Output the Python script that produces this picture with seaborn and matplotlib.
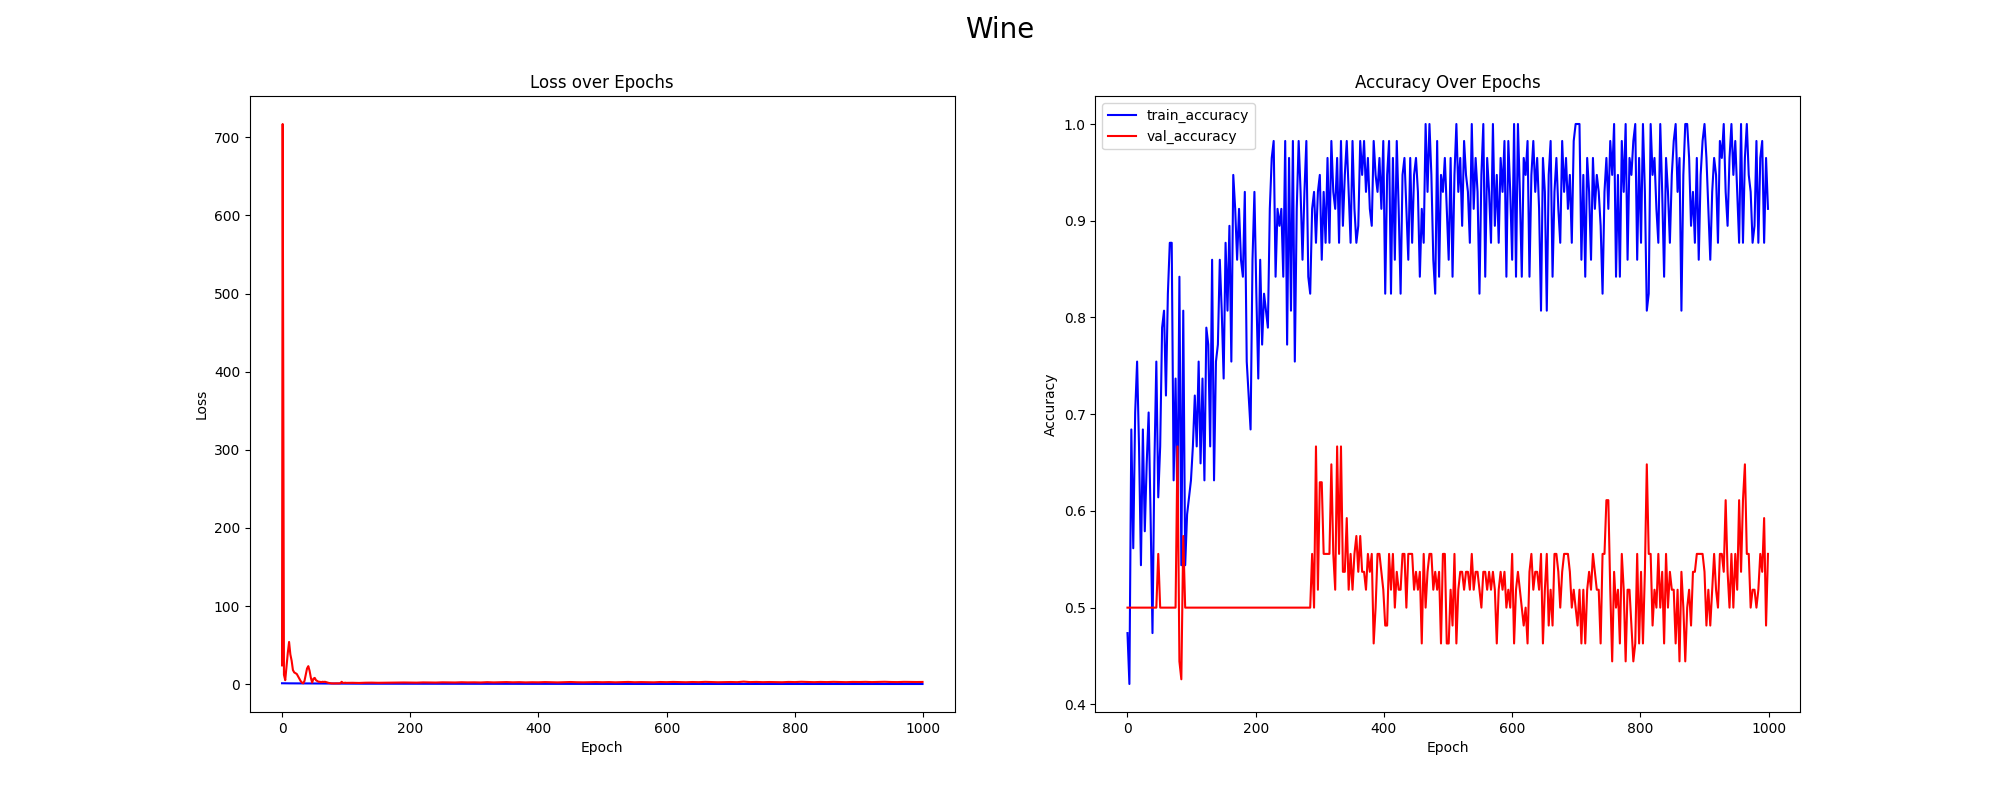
import numpy as np
import matplotlib
matplotlib.use("Agg")
import matplotlib.pyplot as plt
import seaborn as sns

# ── Data ──────────────────────────────────────────────────
# loss: epoch 0, odd epochs 1..99, then every 10 epochs and the last one
loss_epochs = [0] + list(range(1, 100, 2)) + list(range(100, 1000, 10)) + [999]

val_loss = [
    24, 717, 12, 5, 22, 40, 54, 38, 30, 18, 15, 14, 13, 10, 7, 4, 2, 1, 4, 12,
    20, 23, 17, 8, 2, 7, 8, 5, 4, 3, 3, 2.5, 3, 2.8, 3, 2.5, 2, 1.5, 1.2, 1,
    0.9, 0.9, 1, 1, 1, 1, 1.2, 3, 1.5, 1.6, 1.8,
    1.6, 1.7, 1.5, 1.8, 1.9, 1.7, 1.8, 2.0, 1.9, 2.1,
    2.0, 1.9, 2.2, 2.1, 2.0, 2.3, 2.2, 2.1, 2.4, 2.2,
    2.3, 2.1, 2.5, 2.2, 2.4, 2.6, 2.3, 2.5, 2.2, 2.4,
    2.3, 2.6, 2.4, 2.2, 2.5, 2.7, 2.4, 2.3, 2.5, 2.6,
    2.4, 2.6, 2.3, 2.5, 2.8, 2.4, 2.6, 2.5, 2.3, 2.7,
    2.5, 2.8, 2.6, 2.4, 2.7, 2.5, 2.9, 2.6, 2.4, 2.6,
    2.7, 2.5, 3.2, 2.6, 2.8, 2.5, 2.7, 2.6, 2.4, 2.8,
    2.6, 3.0, 2.7, 2.5, 2.8, 2.6, 2.9, 2.7, 2.5, 2.8,
    2.7, 2.9, 2.6, 2.8, 3.0, 2.7, 2.6, 2.9, 2.8, 2.7,
    2.8,
]

train_loss = [
    1.10, 1.08, 1.06, 1.05, 1.03, 1.02, 1.00, 0.99, 0.98, 0.97,
    0.95, 0.94, 0.94, 0.92, 0.91, 0.90, 0.89, 0.88, 0.88, 0.86,
    0.85, 0.84, 0.84, 0.82, 0.81, 0.80, 0.80, 0.78, 0.77, 0.76,
    0.76, 0.75, 0.74, 0.73, 0.72, 0.71, 0.71, 0.70, 0.69, 0.68,
    0.68, 0.67, 0.66, 0.65, 0.65, 0.64, 0.63, 0.63, 0.62, 0.61, 0.60,
    0.58, 0.56, 0.55, 0.53, 0.52, 0.50, 0.49, 0.48, 0.46, 0.45,
    0.44, 0.43, 0.42, 0.41, 0.40, 0.39, 0.39, 0.38, 0.37, 0.36,
    0.36, 0.35, 0.35, 0.34, 0.33, 0.34, 0.32, 0.32, 0.31, 0.31,
    0.30, 0.31, 0.29, 0.30, 0.28, 0.29, 0.28, 0.27, 0.28, 0.27,
    0.26, 0.27, 0.26, 0.25, 0.26, 0.25, 0.24, 0.25, 0.24, 0.25,
    0.24, 0.23, 0.24, 0.23, 0.22, 0.23, 0.22, 0.23, 0.21, 0.22,
    0.22, 0.21, 0.22, 0.20, 0.21, 0.21, 0.20, 0.21, 0.20, 0.19,
    0.20, 0.19, 0.20, 0.19, 0.18, 0.19, 0.18, 0.19, 0.18, 0.18,
    0.18, 0.17, 0.18, 0.17, 0.18, 0.17, 0.16, 0.17, 0.16, 0.17,
    0.16,
]

# accuracy: every 3 epochs, correct count out of the split size
TRAIN_N = 57
VAL_N = 54

train_correct = [
    # 0-297
    27, 24, 39, 32, 40, 43, 38, 31, 39, 33, 37, 40, 34, 27, 37, 43, 35, 38, 45, 46,
    41, 47, 50, 50, 36, 42, 34, 48, 31, 46, 31, 34, 35, 36, 38, 41, 38, 43, 37, 42,
    36, 45, 44, 38, 49, 36, 43, 44, 49, 46, 42, 50, 46, 51, 43, 54, 52, 49, 52, 49,
    48, 53, 43, 41, 39, 49, 53, 47, 42, 49, 44, 47, 46, 45, 52, 55, 56, 48, 52, 51,
    52, 48, 56, 44, 55, 46, 56, 43, 52, 56, 53, 49, 53, 56, 48, 47, 52, 53, 50, 53,
    # 300-627
    54, 49, 53, 50, 55, 50, 56, 53, 52, 55, 50, 56, 51, 54, 56, 53, 50, 56, 52, 50,
    51, 56, 54, 56, 53, 55, 52, 51, 56, 54, 53, 55, 52, 56, 47, 54, 56, 47, 55, 49,
    56, 52, 47, 54, 55, 52, 49, 55, 50, 54, 55, 53, 48, 52, 50, 57, 53, 57, 54, 49,
    47, 56, 48, 54, 53, 55, 52, 49, 55, 48, 54, 57, 53, 55, 51, 56, 54, 53, 50, 57,
    52, 55, 53, 47, 54, 57, 48, 55, 53, 50, 57, 51, 54, 50, 55, 53, 56, 48, 56, 53,
    49, 57, 48, 57, 53, 48, 55, 54, 56, 48,
    # 630-999
    54, 56, 53, 55, 52, 46, 55, 53, 46, 54, 56, 48, 53, 55, 52, 50, 56, 53, 55, 52,
    54, 50, 56, 57, 57, 57, 49, 54, 48, 55, 53, 49, 55, 52, 54, 53, 51, 47, 53, 55,
    52, 56, 54, 57, 48, 54, 48, 56, 53, 57, 49, 55, 54, 56, 57, 49, 55, 50, 57, 53,
    46, 47, 57, 54, 55, 52, 50, 57, 53, 48, 55, 53, 50, 54, 56, 57, 53, 55, 46, 54,
    57, 57, 55, 51, 53, 50, 55, 49, 54, 56, 57, 55, 52, 49, 53, 55, 54, 50, 56, 55,
    57, 53, 51, 55, 57, 54, 56, 53, 50, 57, 50, 55, 57, 54, 53, 50, 51, 56, 50, 55,
    56, 50, 55, 52,
]

val_correct = [
    # 0-297
    27, 27, 27, 27, 27, 27, 27, 27, 27, 27, 27, 27, 27, 27, 27, 27, 30, 27, 27, 27,
    27, 27, 27, 27, 27, 27, 36, 24, 23, 31, 27, 27, 27, 27, 27, 27, 27, 27, 27, 27,
    27, 27, 27, 27, 27, 27, 27, 27, 27, 27, 27, 27, 27, 27, 27, 27, 27, 27, 27, 27,
    27, 27, 27, 27, 27, 27, 27, 27, 27, 27, 27, 27, 27, 27, 27, 27, 27, 27, 27, 27,
    27, 27, 27, 27, 27, 27, 27, 27, 27, 27, 27, 27, 27, 27, 27, 27, 30, 27, 36, 28,
    # 300-627
    34, 34, 30, 30, 30, 30, 35, 30, 28, 36, 30, 36, 29, 29, 32, 28, 30, 28, 30, 31,
    29, 31, 29, 29, 28, 30, 29, 30, 25, 27, 30, 30, 29, 28, 26, 26, 30, 28, 30, 27,
    29, 28, 28, 30, 30, 27, 30, 30, 30, 28, 29, 28, 29, 25, 30, 27, 29, 30, 30, 28,
    29, 28, 29, 25, 30, 30, 25, 25, 28, 26, 30, 25, 28, 29, 29, 28, 29, 29, 28, 30,
    28, 29, 29, 28, 27, 29, 29, 28, 29, 28, 29, 28, 25, 28, 29, 28, 29, 27, 28, 27,
    30, 25, 28, 29, 28, 27, 26, 27, 25, 29,
    # 630-999
    30, 28, 29, 29, 28, 30, 25, 28, 30, 26, 28, 26, 30, 30, 29, 27, 29, 30, 30, 30,
    29, 27, 28, 27, 26, 28, 25, 28, 25, 28, 29, 28, 30, 29, 28, 28, 25, 30, 30, 33,
    33, 28, 24, 29, 27, 28, 25, 30, 28, 24, 28, 28, 26, 24, 25, 30, 25, 29, 25, 29,
    35, 30, 30, 26, 28, 27, 30, 27, 29, 25, 30, 27, 29, 28, 28, 25, 28, 24, 29, 27,
    24, 27, 28, 26, 29, 29, 30, 30, 30, 30, 29, 26, 28, 26, 28, 30, 28, 27, 30, 30,
    29, 33, 29, 27, 30, 27, 30, 28, 33, 29, 33, 35, 30, 30, 27, 28, 28, 27, 28, 30,
    29, 32, 26, 30,
]

train_acc = np.array(train_correct) / TRAIN_N
val_acc = np.array(val_correct) / VAL_N
train_epochs = np.linspace(0, 999, len(train_acc))
val_epochs = np.linspace(0, 999, len(val_acc))

# ── Figure ────────────────────────────────────────────────
fig, axes = plt.subplots(1, 2, figsize=(20, 8), dpi=100)

ax = axes[0]
sns.lineplot(x=loss_epochs, y=train_loss, color="blue", estimator=None, ax=ax)
sns.lineplot(x=loss_epochs, y=val_loss, color="red", estimator=None, ax=ax)
ax.set_title("Loss over Epochs")
ax.set_xlabel("Epoch")
ax.set_ylabel("Loss")

ax = axes[1]
sns.lineplot(x=train_epochs, y=train_acc, color="blue", estimator=None,
             label="train_accuracy", ax=ax)
sns.lineplot(x=val_epochs, y=val_acc, color="red", estimator=None,
             label="val_accuracy", ax=ax)
ax.set_title("Accuracy Over Epochs")
ax.set_xlabel("Epoch")
ax.set_ylabel("Accuracy")
ax.legend(loc="upper left")

fig.suptitle("Wine", fontsize=20)
fig.savefig("out.png", dpi=100)
plt.close(fig)
